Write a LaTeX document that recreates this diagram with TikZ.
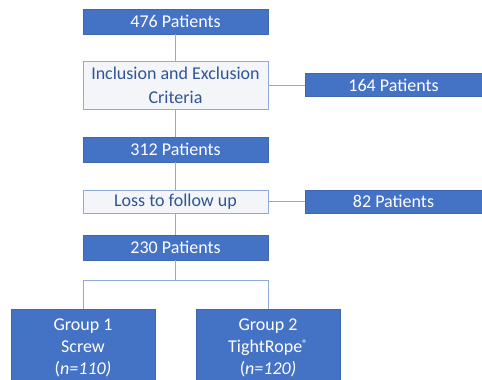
\documentclass[tikz,border=0pt]{standalone}
\usepackage{fontspec}
\setmainfont{Carlito}
\usepackage{tikz}
\usetikzlibrary{positioning}
\definecolor{boxblue}  {HTML}{4472C4}
\definecolor{boxedge}  {HTML}{3F67B1}
\definecolor{lineblue} {HTML}{8FAADC}
\definecolor{paleblue} {HTML}{F3F5F8}
\definecolor{textblue} {HTML}{2F5597}
\newcommand{\regmark}{{\fontsize{11bp}{11bp}\selectfont\raisebox{5bp}{®}}}
\tikzset{
  every node/.style={font=\fontsize{18bp}{24bp}\selectfont},
  % --- nodes
  count/.style    = {draw=boxedge, fill=boxblue, text=white, align=center,
                     outer sep=0pt, inner sep=0pt, line width=0.6pt},
  main/.style     = {count, minimum width=185bp, minimum height=25bp},
  side/.style     = {count, minimum width=177bp, minimum height=23bp},
  filter/.style   = {draw=lineblue, fill=paleblue, text=textblue, align=center,
                     outer sep=0pt, inner sep=0pt, line width=0.8pt,
                     minimum width=185bp},
  group/.style    = {count, minimum width=144bp, minimum height=78bp,
                     font=\fontsize{18bp}{22bp}\selectfont},
  % --- edges
  link/.style     = {draw=lineblue, line width=0.8pt},
}
\begin{document}
\begin{tikzpicture}[x=1bp,y=1bp]
  \useasboundingbox (0,0) rectangle (482,-379);

  \node[main] (n476) at (175.5,-21.5) {476 Patients};
  \node[filter, minimum height=48bp, below=27bp of n476] (incl)
       {Inclusion and Exclusion\\Criteria};
  \node[side, right=37bp of incl] (n164) {164 Patients};
  \node[main, below=28bp of incl] (n312) {312 Patients};
  \node[filter, minimum height=23bp, below=28bp of n312] (loss) {Loss to follow up};
  \node[side, right=37bp of loss] (n82) {82 Patients};
  \node[main, below=22bp of loss] (n230) {230 Patients};

  \node[group, below=49bp of n230.south west] (g1)
       {Group 1\\Screw\\({\itshape n=110)}};
  \node[group, below=49bp of n230.south east] (g2)
       {Group 2\\TightRope\regmark\\({\itshape n=120)}};

  \draw[link] (n476) -- (incl);
  \draw[link] (incl) -- (n312);
  \draw[link] (n312) -- (loss);
  \draw[link] (loss) -- (n230);
  \draw[link] (incl) -- (n164);
  \draw[link] (loss) -- (n82);

  % split into the two groups
  \path (n230.south) ++(0,-20bp) coordinate (split);
  \draw[link] (n230) -- (split);
  \draw[link] (g1.north) |- (split) -| (g2.north);
\end{tikzpicture}
\end{document}
